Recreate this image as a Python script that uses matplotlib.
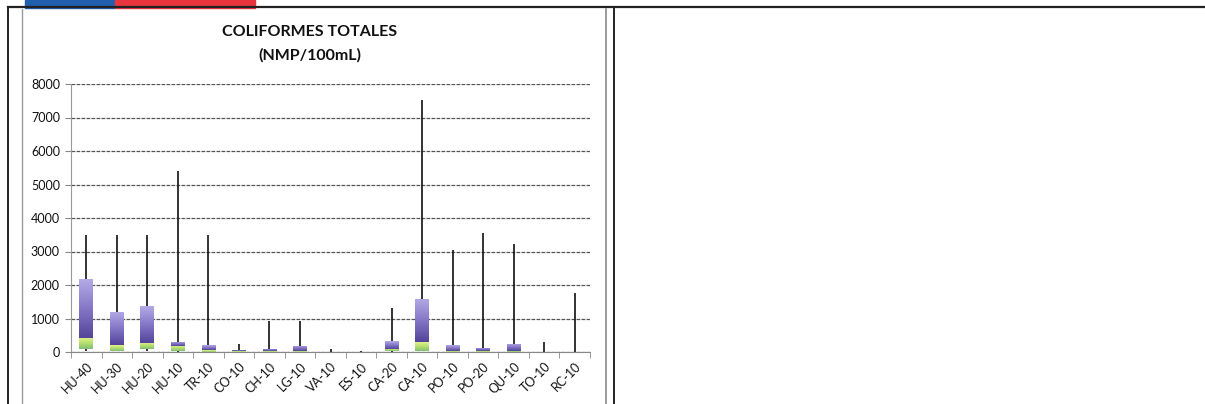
"""Coliformes totales box plot (Excel style stacked bars + whiskers)."""

import numpy as np
import matplotlib.pyplot as plt
from matplotlib.colors import LinearSegmentedColormap
from matplotlib.patches import Rectangle
from matplotlib.lines import Line2D

plt.rcParams['font.family'] = ['Lato', 'DejaVu Sans']

# Data (NMP/100mL)
stations = ['HU-40', 'HU-30', 'HU-20', 'HU-10', 'TR-10', 'CO-10', 'CH-10', 'LG-10',
            'VA-10', 'ES-10', 'CA-20', 'CA-10', 'PO-10', 'PO-20', 'QU-10', 'TO-10', 'RC-10']
minimum = [20, 20, 20, 10, 10, 5, 5, 5, 5, 5, 10, 20, 5, 5, 5, 5, 5]
q1 = [90, 30, 80, 20, 10, 5, 5, 10, 2, 2, 30, 40, 10, 5, 10, 2, 2]
median = [420, 200, 280, 170, 60, 20, 20, 30, 5, 4, 90, 290, 30, 20, 40, 4, 4]
q3 = [2180, 1190, 1360, 310, 200, 70, 100, 190, 10, 8, 320, 1590, 200, 130, 250, 10, 10]
maximum = [3500, 3500, 3500, 5400, 3500, 240, 920, 920, 80, 40, 1320, 7520, 3040, 3540, 3230, 310, 1750]
yticks = [0, 1000, 2000, 3000, 4000, 5000, 6000, 7000, 8000]

purple = LinearSegmentedColormap.from_list('p', ['#54449a', '#8577c6', '#b4aae6'])
green = LinearSegmentedColormap.from_list('g', ['#7fbf72', '#b6df6e', '#e2f28c'])

fig = plt.figure(figsize=(12.05, 4.04), dpi=100)

# page decoration: flag strip and table borders
fig.patches.append(Rectangle((25 / 1205, 396 / 404), 90 / 1205, 8 / 404,
                             transform=fig.transFigure, color='#1f5fae'))
fig.patches.append(Rectangle((115 / 1205, 396 / 404), 140 / 1205, 8 / 404,
                             transform=fig.transFigure, color='#e8343c'))
for xs, ys, c, lw in [((8, 1205), (397, 397), '#222222', 1.6),
                      ((8, 8), (0, 397), '#222222', 1.4),
                      ((614, 614), (0, 397), '#222222', 1.4),
                      ((22, 22), (0, 395), '#9a9a9a', 1.0),
                      ((606, 606), (0, 395), '#8a8a8a', 1.2)]:
    fig.lines.append(Line2D([x / 1205 for x in xs], [y / 404 for y in ys],
                            transform=fig.transFigure, color=c, lw=lw))

ax = fig.add_axes([71 / 1205, 52 / 404, 519 / 1205, 268 / 404])
x = np.arange(len(stations))
w = 0.45

ax.vlines(x, minimum, maximum, color='#111111', lw=1.2, zorder=2)

low = np.array(median) - np.array(q1)
high = np.array(q3) - np.array(median)
bars_g = ax.bar(x, low, w, bottom=q1, color='none', zorder=3)
bars_p = ax.bar(x, high, w, bottom=median, color='none', zorder=3)

grad = np.linspace(0, 1, 64).reshape(-1, 1)
for bars, cmap in [(bars_g, green), (bars_p, purple)]:
    for b in bars:
        if b.get_height() <= 0:
            continue
        x0, y0 = b.get_x(), b.get_y()
        im = ax.imshow(grad, cmap=cmap, origin='lower', aspect='auto', zorder=3,
                       extent=(x0, x0 + b.get_width(), y0, y0 + b.get_height()))
        im.set_clip_path(b)

ax.set_xlim(-0.5, len(stations) - 0.5)
ax.set_ylim(0, 8000)
ax.set_yticks(yticks)
ax.set_yticklabels([str(v) for v in yticks], fontsize=9, color='#111111')
ax.grid(axis='y', color='#555555', ls=(0, (3, 1)), lw=0.9, zorder=0)

ax.set_xticks(x)
ax.set_xticklabels(stations, rotation=45, ha='right', rotation_mode='anchor',
                   fontsize=9, color='#111111')
ax.tick_params(axis='x', length=0, pad=6)
ax.set_xticks(np.arange(-0.5, len(stations)), minor=True)
ax.tick_params(axis='x', which='minor', length=4, color='#888888')
ax.tick_params(axis='y', length=4, color='#888888', pad=4)

for s in ['top', 'right']:
    ax.spines[s].set_visible(False)
ax.spines['bottom'].set_color('#888888')
ax.spines['left'].set_color('#999999')
ax.spines['left'].set_linestyle((0, (2, 1)))

fig.text(310 / 1205, 372 / 404, 'COLIFORMES TOTALES', ha='center', va='center',
         fontsize=11.5, fontweight='bold', color='#111111')
fig.text(310 / 1205, 349 / 404, '(NMP/100mL)', ha='center', va='center',
         fontsize=11.5, fontweight='bold', color='#111111')

plt.savefig('out.png', dpi=100)
